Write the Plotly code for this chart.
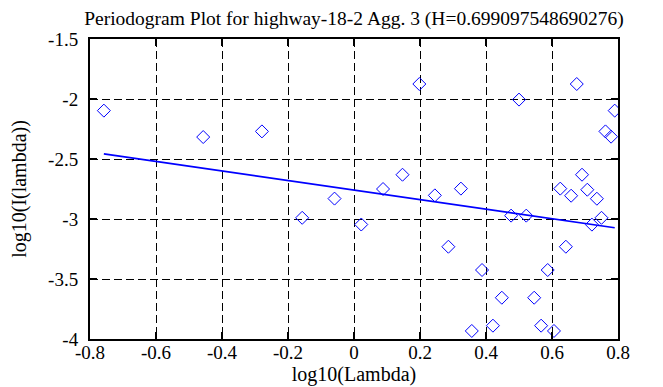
import numpy as np
import plotly.graph_objects as go

title_text = "Periodogram Plot for highway-18-2 Agg. 3 (H=0.699097548690276)"
H = 0.699097548690276
intercept = -2.759

log_lambda = [-0.758, -0.457, -0.279, -0.157, -0.059, 0.022, 0.088, 0.147, 0.198,
              0.245, 0.286, 0.324, 0.357, 0.388, 0.421, 0.448, 0.476, 0.500, 0.522,
              0.546, 0.567, 0.587, 0.606, 0.625, 0.642, 0.658, 0.675, 0.691, 0.707,
              0.721, 0.736, 0.750, 0.762, 0.779, 0.790]
log_I = [-2.097, -2.317, -2.270, -2.990, -2.830, -3.046, -2.750, -2.631, -1.875,
         -2.803, -3.231, -2.747, -3.933, -3.425, -3.889, -3.656, -2.972, -2.005, -2.972,
         -3.656, -3.889, -3.425, -3.933, -2.747, -3.231, -2.806, -1.875, -2.631, -2.756,
         -3.047, -2.831, -2.990, -2.270, -2.314, -2.097]

x_ticks = [-0.8, -0.6, -0.4, -0.2, 0, 0.2, 0.4, 0.6, 0.8]
y_ticks = [-4, -3.5, -3, -2.5, -2, -1.5]

slope = 1 - 2 * H
fit_x = np.array([min(log_lambda), max(log_lambda)])
fit_y = intercept + slope * fit_x

FONT = "Liberation Serif"

fig = go.Figure()
fig.add_trace(go.Scatter(
    x=fit_x, y=fit_y, mode="lines",
    line=dict(color="#0000ff", width=1.6), showlegend=False,
))
fig.add_trace(go.Scatter(
    x=log_lambda, y=log_I, mode="markers",
    marker=dict(symbol="diamond-open", size=10, color="#0000ff", line=dict(width=1, color="#0000ff")),
    showlegend=False,
))

axis_common = dict(
    showline=True, linecolor="black", linewidth=2, mirror="allticks",
    ticks="inside", ticklen=7, tickcolor="black", tickwidth=1.5,
    showgrid=True, gridcolor="black", gridwidth=1, griddash="8px,4px",
    zeroline=False, automargin=False,
    tickfont=dict(family=FONT, size=19, color="black"),
)

fig.update_layout(
    width=663, height=387,
    margin=dict(l=82, r=53, t=31, b=56),
    paper_bgcolor="white", plot_bgcolor="white",
    font=dict(family=FONT, size=19, color="black"),
    title=dict(text=title_text, xref="paper", x=0.5, xanchor="center",
               yref="container", y=0.992, yanchor="top", pad=dict(t=0, b=0),
               automargin=False,
               font=dict(family=FONT, size=19.5, color="black")),
    xaxis=dict(range=[-0.8, 0.8], tickvals=x_ticks, ticktext=[f"{v:g}" for v in x_ticks],
               title=dict(text="log10(Lambda)", font=dict(family=FONT, size=20), standoff=0),
               ticklabelstandoff=-5,
               **axis_common),
    yaxis=dict(range=[-4, -1.5], tickvals=y_ticks, ticktext=[f"{v:g}" for v in y_ticks],
               title=dict(text="log10(I(lambda))", font=dict(family=FONT, size=20), standoff=22),
               ticklabelstandoff=6,
               **axis_common),
)

fig.write_html("out.html")
